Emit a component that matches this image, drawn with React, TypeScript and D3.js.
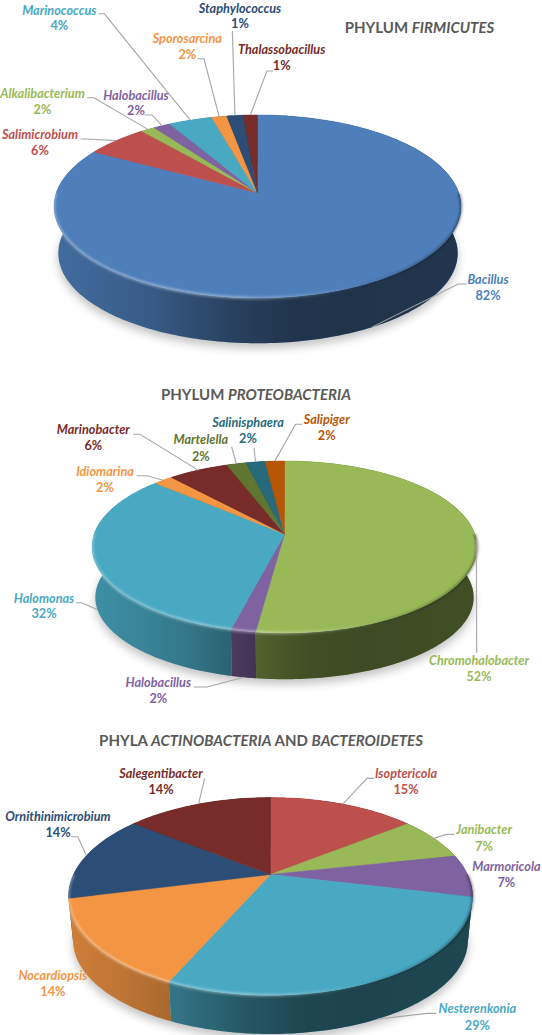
import React, { useRef, useEffect } from "react";
import * as d3 from "d3";

// ---- data. shares are the slice sizes, percents the printed labels
const firmicutesNames = ["Bacillus", "Salimicrobium", "Alkalibacterium", "Halobacillus", "Marinococcus", "Sporosarcina", "Staphylococcus", "Thalassobacillus"];
const firmicutesShares = [83.2, 5.75, 1.3, 1.55, 4.0, 1.4, 1.5, 1.3];
const firmicutesPercents = [82, 6, 2, 2, 4, 2, 1, 1];
const firmicutesColors = ["#4e7fbb", "#bd4f4c", "#99b958", "#7f63a0", "#49a9c3", "#f39543", "#2c4d75", "#772c2a"];

const proteoNames = ["Chromohalobacter", "Halobacillus", "Halomonas", "Idiomarina", "Marinobacter", "Martelella", "Salinisphaera", "Salipiger"];
const proteoShares = [52.06, 1.8, 32.74, 1.9, 5.87, 1.9, 1.86, 1.87];
const proteoPercents = [52, 2, 32, 2, 6, 2, 2, 2];
const proteoColors = ["#99b958", "#7f63a0", "#49a9c3", "#f39543", "#772c2a", "#5f7530", "#276a7c", "#b65708"];

const actinoNames = ["Isoptericola", "Janibacter", "Marmoricola", "Nesterenkonia", "Nocardiopsis", "Ornithinimicrobium", "Salegentibacter"];
const actinoShares = [14.5, 7.2, 6.95, 28.1, 14.4, 14.4, 14.45];
const actinoPercents = [15, 7, 7, 29, 14, 14, 14];
const actinoColors = ["#bd4f4c", "#99b958", "#7f63a0", "#49a9c3", "#f39543", "#2c4d75", "#772c2a"];

// ---- layout. top/bottom are the perspective circles of the lid and the base
const firmicutesGeom = { k: 0.1475, top: { cx: 257.5, cy: 193, R: 201.3, S: 89.5 }, bottom: { cx: 258, cy: 240, R: 197.5, S: 88 } };
const proteoGeom = { k: 0.151, top: { cx: 284.5, cy: 534, R: 190.3, S: 84 }, bottom: { cx: 284.5, cy: 585, R: 187, S: 80 } };
const actinoGeom = { k: 0.222, top: { cx: 270.5, cy: 874.5, R: 197, S: 94 }, bottom: { cx: 270.5, cy: 919.6, R: 192.5, S: 89 } };

// label centre x, name baseline, percent baseline, then leader start and elbow ([] = no leader), then the rim it lands on
type Spot = { x: number; y: number; py: number; leader: number[][]; rim?: "top" | "bottom" };

const firmicutesSpots: Spot[] = [
  { x: 488, y: 284, py: 299.5, leader: [[466.7, 284], [458.3, 284]], rim: "bottom" },
  { x: 40, y: 139, py: 155, leader: [[80.5, 139], [86.4, 139]] },
  { x: 42.5, y: 97.5, py: 113.5, leader: [[87, 97.8], [94, 97.8]] },
  { x: 136, y: 99.5, py: 115, leader: [[144.5, 115], [152, 115]] },
  { x: 59.3, y: 14.5, py: 30, leader: [[98.5, 13.8], [104.4, 13.8]] },
  { x: 187.3, y: 43, py: 58.8, leader: [[197.7, 58.8], [204, 58.8]] },
  { x: 240, y: 13, py: 28, leader: [[232.3, 31]] },
  { x: 281.7, y: 54.3, py: 70, leader: [[273, 71], [266.9, 71]] },
];
const proteoSpots: Spot[] = [
  { x: 479, y: 665, py: 680.7, leader: [[476.7, 653]] },
  { x: 158.3, y: 687.4, py: 703, leader: [[193.6, 687], [207, 687]], rim: "bottom" },
  { x: 44, y: 602.7, py: 618.3, leader: [[76, 602.7], [81.7, 602.7]], rim: "bottom" },
  { x: 105, y: 475.8, py: 491.7, leader: [[136.5, 475.8], [147, 475.8]] },
  { x: 93.3, y: 434.3, py: 450.2, leader: [[133, 434.3], [140, 434.3]] },
  { x: 200.8, y: 444.3, py: 460.6, leader: [[231.6, 446.7]] },
  { x: 248, y: 427, py: 443.3, leader: [[254, 447.8]] },
  { x: 326.7, y: 424.3, py: 440.2, leader: [[302.4, 424.3], [295.5, 424.3]] },
];
const actinoSpots: Spot[] = [
  { x: 406, y: 777.7, py: 794, leader: [[374.3, 778.4], [367, 778.4]] },
  { x: 484, y: 834.4, py: 851, leader: [[454.5, 834.4], [446, 834.4]] },
  { x: 506.4, y: 871, py: 887.3, leader: [] },
  { x: 477.4, y: 1013.4, py: 1030, leader: [[436.2, 1013.4], [427, 1013.4]], rim: "bottom" },
  { x: 52.9, y: 979.6, py: 996, leader: [] },
  { x: 58, y: 820.6, py: 836.8, leader: [[70.9, 836.8], [77.8, 836.8]] },
  { x: 161, y: 778.4, py: 794, leader: [[204.6, 778.4]] },
];

const charts = [
  { id: "a", names: firmicutesNames, shares: firmicutesShares, percents: firmicutesPercents, colors: firmicutesColors, geom: firmicutesGeom, spots: firmicutesSpots,
    title: [["PHYLUM ", false], ["FIRMICUTES", true]], titleX: 419.5, titleY: 33 },
  { id: "b", names: proteoNames, shares: proteoShares, percents: proteoPercents, colors: proteoColors, geom: proteoGeom, spots: proteoSpots,
    title: [["PHYLUM ", false], ["PROTEOBACTERIA", true]], titleX: 256, titleY: 399.5 },
  { id: "c", names: actinoNames, shares: actinoShares, percents: actinoPercents, colors: actinoColors, geom: actinoGeom, spots: actinoSpots,
    title: [["PHYLA ", false], ["ACTINOBACTERIA", true], [" AND ", false], ["BACTEROIDETES", true]], titleX: 261, titleY: 746.2 },
];

const FONT = "Lato, 'Open Sans', sans-serif";
const TAU = Math.PI * 2;

const App: React.FC = () => {
  const d3Container = useRef(null);

  useEffect(() => {
    if (!d3Container.current) return;
    const svg = d3.select(d3Container.current);
    svg.selectAll("*").remove();
    const defs = svg.append("defs");

    const blur = (id: string, dev: number) =>
      defs.append("filter").attr("id", id).attr("x", "-20%").attr("y", "-20%").attr("width", "140%").attr("height", "140%")
        .append("feGaussianBlur").attr("stdDeviation", dev);
    blur("shadowBlur", 5);
    blur("rimBlur", 0.9);

    const line = d3.line<number[]>();

    charts.forEach((c) => {
      const g = svg.append("g");
      const { k, top, bottom } = c.geom;

      // theta runs clockwise from 12 o'clock, seen from above, with perspective towards the viewer
      const project = (circle: typeof top, theta: number): [number, number] => {
        const v = -Math.cos(theta);
        const depth = 1 - k * v;
        return [circle.cx + (circle.R * Math.sin(theta)) / depth, circle.cy + (circle.S * v) / depth];
      };
      const arcPoints = (circle: typeof top, a0: number, a1: number) => {
        const n = Math.max(2, Math.ceil(Math.abs(a1 - a0) / 0.02));
        return d3.range(n + 1).map((i) => project(circle, a0 + ((a1 - a0) * i) / n));
      };

      const slices = d3.pie<number>().sort(null).value((d) => d)(c.shares);

      // horizontal shading of the wall and highlight on the front rim
      const x0 = top.cx - top.R * 1.02;
      const x1 = top.cx + top.R * 1.02;
      const shade = defs.append("linearGradient").attr("id", "shade" + c.id).attr("gradientUnits", "userSpaceOnUse")
        .attr("x1", x0).attr("x2", x1).attr("y1", 0).attr("y2", 0);
      [[0, 0.15], [0.15, 0.23], [0.25, 0.3], [0.43, 0.48], [0.57, 0.58], [0.7, 0.6], [1, 0.58]].forEach(([o, a]) =>
        shade.append("stop").attr("offset", o).attr("stop-color", "#000").attr("stop-opacity", a));
      const gloss = defs.append("linearGradient").attr("id", "gloss" + c.id).attr("gradientUnits", "userSpaceOnUse")
        .attr("x1", x0).attr("x2", x1).attr("y1", 0).attr("y2", 0);
      [[0, "#fff", 0.3], [0.45, "#fff", 0.35], [0.68, "#fff", 0.08], [0.78, "#000", 0.1], [1, "#000", 0.35]].forEach(([o, col, a]) =>
        gloss.append("stop").attr("offset", o).attr("stop-color", col).attr("stop-opacity", a));

      // soft shadow under the base
      g.append("path")
        .attr("d", line(arcPoints({ ...bottom, cy: bottom.cy + 5 }, 0, TAU)) + "Z")
        .attr("fill", "#000").attr("opacity", 0.24).attr("filter", "url(#shadowBlur)");

      // walls, back ones first
      const wallOrder = slices.slice().sort((p, q) => Math.cos((q.startAngle + q.endAngle) / 2) - Math.cos((p.startAngle + p.endAngle) / 2));
      wallOrder.forEach((s) => {
        const pts = [...arcPoints(top, s.startAngle, s.endAngle), ...arcPoints(bottom, s.endAngle, s.startAngle)];
        const d = line(pts) + "Z";
        g.append("path").attr("d", d).attr("fill", c.colors[s.index]);
        g.append("path").attr("d", d).attr("fill", `url(#shade${c.id})`);
      });

      // lid
      slices.forEach((s) => {
        const pts = [[top.cx, top.cy], ...arcPoints(top, s.startAngle, s.endAngle)];
        g.append("path").attr("d", line(pts) + "Z").attr("fill", c.colors[s.index])
          .attr("stroke", c.colors[s.index]).attr("stroke-width", 0.5);
      });

      // rim highlight
      g.append("path")
        .attr("d", line(arcPoints(top, TAU * 0.25, TAU * 0.75)))
        .attr("fill", "none").attr("stroke", `url(#gloss${c.id})`).attr("stroke-width", 3)
        .attr("filter", "url(#rimBlur)");

      // leaders
      slices.forEach((s) => {
        const spot = c.spots[s.index];
        if (!spot.leader.length) return;
        const end = project(spot.rim === "bottom" ? bottom : top, (s.startAngle + s.endAngle) / 2);
        g.append("path").attr("d", line([...spot.leader, end]))
          .attr("fill", "none").attr("stroke", "#a6a6a6").attr("stroke-width", 1.1);
      });

      // labels
      slices.forEach((s) => {
        const spot = c.spots[s.index];
        const color = c.colors[s.index];
        g.append("text").attr("x", spot.x).attr("y", spot.y).attr("text-anchor", "middle")
          .attr("font-family", FONT).attr("font-size", 12.7).attr("font-weight", 700).attr("font-style", "italic")
          .attr("fill", color).text(c.names[s.index]);
        g.append("text").attr("x", spot.x).attr("y", spot.py).attr("text-anchor", "middle")
          .attr("font-family", FONT).attr("font-size", 12.7).attr("font-weight", 700)
          .attr("fill", color).text(c.percents[s.index] + "%");
      });

      // title
      const title = g.append("text").attr("x", c.titleX).attr("y", c.titleY).attr("text-anchor", "middle")
        .attr("font-family", FONT).attr("font-size", 15).attr("font-weight", 700).attr("fill", "#595959");
      c.title.forEach(([txt, ital]) => {
        title.append("tspan").attr("font-style", ital ? "italic" : "normal").text(txt as string);
      });
    });
  }, []);

  return <svg ref={d3Container} width={542} height={1035} style={{ position: "absolute", left: 0, top: 0, display: "block" }} />;
};

export default App;
